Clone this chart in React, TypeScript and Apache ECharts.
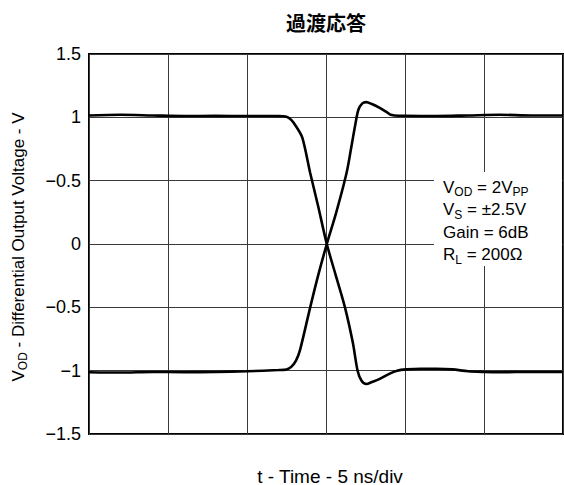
import { useEffect, useRef } from "react";
import * as echarts from "echarts";

// Axis setup (time in ns, 5 ns per division)
const timeMin = 0;
const timeMax = 30;
const timeStep = 5;
const voltMin = -1.5;
const voltMax = 1.5;
const voltStep = 0.5;
const yTickLabels = ["−1.5", "−1", "−0.5", "0", "−0.5", "1", "1.5"];

// Falling output (starts high, ends low)
const fallTimeNs = [0, 2, 4, 6, 8, 10, 12, 12.5, 12.8, 13.1, 13.5, 14.0, 14.5, 15.05, 15.6, 16.2, 16.7, 17.0, 17.25, 17.55, 17.9, 18.4, 19.0, 19.5, 20.1, 21, 22, 23, 24, 25, 26, 28, 30];
const fallVolts = [1.015, 1.02, 1.015, 1.01, 1.012, 1.01, 1.01, 1.005, 0.98, 0.93, 0.84, 0.56, 0.3, 0, -0.24, -0.5, -0.78, -1.0, -1.08, -1.105, -1.09, -1.065, -1.025, -1.0, -0.99, -0.985, -0.985, -0.99, -1.005, -1.01, -1.012, -1.01, -1.01];

// Rising output (starts low, ends high)
const riseTimeNs = [0, 2, 4, 6, 8, 10, 12, 12.5, 12.8, 13.1, 13.35, 14.0, 14.5, 15.05, 15.65, 16.3, 16.65, 16.85, 17.05, 17.3, 17.55, 17.9, 18.4, 18.8, 19.1, 19.6, 20, 22, 24, 26, 28, 30];
const riseVolts = [-1.012, -1.015, -1.01, -1.012, -1.01, -1.005, -0.995, -0.99, -0.97, -0.92, -0.84, -0.5, -0.25, 0, 0.25, 0.56, 0.8, 0.94, 1.06, 1.11, 1.12, 1.105, 1.075, 1.045, 1.02, 1.012, 1.012, 1.01, 1.015, 1.02, 1.015, 1.015];

const FONT = "'Liberation Sans', Arial, Helvetica, sans-serif";

const zip = (xs: number[], ys: number[]) => xs.map((x, i) => [x, ys[i]]);

const normal = { fontSize: 17, fontFamily: FONT, color: "#000", lineHeight: 22, verticalAlign: "middle" as const };
const sub = { fontSize: 12, fontFamily: FONT, color: "#000", lineHeight: 10, verticalAlign: "bottom" as const };

export default function App() {
  const ref = useRef<HTMLDivElement>(null);

  useEffect(() => {
    const chart = echarts.init(ref.current!, null, { renderer: "svg" });
    const noteLines = [
      "{n|V}{s|OD}{n| = 2V}{s|PP}",
      "{n|V}{s|S}{n| = ±2.5V}",
      "{n|Gain = 6dB}",
      "{n|R}{s|L}{n| = 200Ω}",
    ];
    const noteY = [187, 209.5, 232, 254.5];

    chart.setOption({
      animation: false,
      backgroundColor: "#fff",
      grid: {
        left: 89,
        top: 54,
        right: 1,
        bottom: 51,
        show: true,
        borderColor: "#000",
        borderWidth: 2,
      },
      xAxis: {
        type: "value",
        min: timeMin,
        max: timeMax,
        interval: timeStep,
        axisLine: { show: false },
        axisTick: { show: false },
        axisLabel: { show: false },
        splitLine: { show: true, lineStyle: { color: "#3a3a3a", width: 1 } },
      },
      yAxis: {
        type: "value",
        min: voltMin,
        max: voltMax,
        interval: voltStep,
        axisLine: { show: false },
        axisTick: { show: false },
        axisLabel: {
          margin: 8,
          fontSize: 18,
          fontFamily: FONT,
          color: "#000",
          formatter: (v: number) => yTickLabels[Math.round((v - voltMin) / voltStep)] ?? "",
        },
        splitLine: { show: true, lineStyle: { color: "#3a3a3a", width: 1 } },
      },
      series: [
        {
          type: "line",
          data: zip(fallTimeNs, fallVolts),
          smooth: 0.3,
          symbol: "none",
          lineStyle: { color: "#000", width: 2.6 },
        },
        {
          type: "line",
          data: zip(riseTimeNs, riseVolts),
          smooth: 0.3,
          symbol: "none",
          lineStyle: { color: "#000", width: 2.6 },
        },
      ],
      graphic: [
        {
          type: "text",
          x: 326,
          y: 22,
          style: {
            text: "過渡応答",
            fontSize: 20,
            fontWeight: "bold",
            fontFamily: "'Noto Sans CJK JP', sans-serif",
            fill: "#000",
            align: "center",
            verticalAlign: "middle",
          },
        },
        {
          type: "text",
          x: 330,
          y: 476,
          style: {
            text: "t - Time - 5 ns/div",
            fontSize: 19,
            fontFamily: FONT,
            fill: "#000",
            align: "center",
            verticalAlign: "middle",
          },
        },
        {
          type: "text",
          x: 18,
          y: 247,
          rotation: Math.PI / 2,
          style: {
            text: "{n|V}{s|OD}{n| - Differential Output Voltage - V}",
            rich: { n: normal, s: sub },
            align: "center",
            verticalAlign: "middle",
          },
        },
        {
          type: "rect",
          z: 100,
          shape: { x: 434, y: 172, width: 128, height: 94 },
          style: { fill: "#fff" },
        },
        ...noteLines.map((t, i) => ({
          type: "text",
          z: 101,
          x: 443,
          y: noteY[i],
          style: {
            text: t,
            rich: { n: normal, s: sub },
            align: "left",
            verticalAlign: "middle",
          },
        })),
      ],
    });

    return () => chart.dispose();
  }, []);

  return (
    <div
      ref={ref}
      style={{ position: "absolute", left: 0, top: 0, width: 564, height: 485 }}
    />
  );
}
